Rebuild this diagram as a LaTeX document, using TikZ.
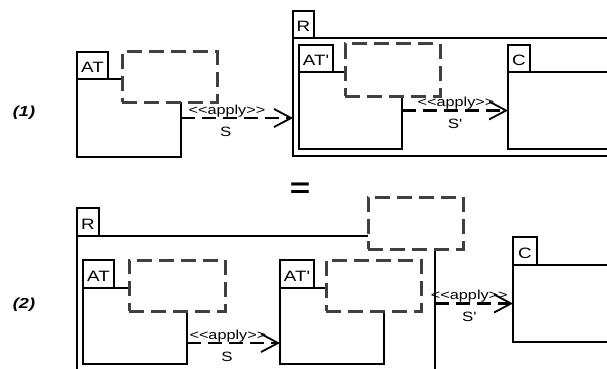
\documentclass[tikz,border=0pt]{standalone}
\usepackage{fontspec}
\setmainfont[FakeStretch=1.25,Ligatures=TeXOff]{Liberation Sans}
\usetikzlibrary{positioning,arrows.meta}
\definecolor{hookGrey}{HTML}{404040}

\tikzset{
  pkgtab/.style={draw, line width=1.4pt, fill=white, inner sep=0pt, outer sep=0pt, minimum height=27pt, anchor=north west, font=\fontsize{15}{17}\selectfont, text height=14pt, text depth=0pt},
  pkgbody/.style={draw, line width=1.4pt, fill=white, inner sep=0pt, outer sep=0pt, anchor=north west},
  hookbox/.style={draw=hookGrey, line width=3pt, dash pattern=on 15pt off 7pt, fill=white, inner sep=0pt, outer sep=0pt, anchor=north west, minimum width=95pt, minimum height=50pt},
  applyarrow/.style={line width=2.8pt, dash pattern=on 14pt off 7pt, -{Straight Barb[length=17pt, width=18pt, line width=1.8pt]}},
  stereo/.style={font=\fontsize{13}{15}\selectfont, anchor=base, inner sep=0pt, yshift=4pt},
  rolename/.style={font=\fontsize{13.5}{15}\selectfont, anchor=base, inner sep=0pt, yshift=-18pt},
  rowmark/.style={font=\fontsize{14.5}{16}\selectfont\bfseries\itshape}
}

\begin{document}
\begin{tikzpicture}[x=1pt, y=-1pt]
  \useasboundingbox (0,0) rectangle (607,369);
  \clip (0,0) rectangle (607,369);

  % (1)
  \node[rowmark] (m1) at (24,113) {(1)};
  \node[pkgtab, minimum width=31pt] (at1t) at (77,52) {AT};
  \node[pkgbody, minimum width=104pt, minimum height=78pt] (at1b) at (at1t.south west) {};
  \node[hookbox] (h1) at (122,52) {};

  \node[pkgtab, minimum width=21pt] (r1t) at (293,11) {R};
  \node[pkgbody, minimum width=330pt, minimum height=118pt] (r1b) at (r1t.south west) {};
  \node[pkgtab, minimum width=34pt] (atp1t) at (299,45) {AT'};
  \node[pkgbody, minimum width=103pt, minimum height=77pt] (atp1b) at (atp1t.south west) {};
  \node[hookbox, minimum height=52pt] (h2) at (345,44) {};
  \node[pkgtab, minimum width=22pt] (c1t) at (508,45) {C};
  \node[pkgbody, minimum width=112pt, minimum height=77pt] (c1b) at (c1t.south west) {};

  \draw[applyarrow] (at1b.east) -- (at1b.east -| r1b.west)
    node[stereo, pos=0.41] {<<apply>>} node[rolename, pos=0.4] {S};
  \draw[applyarrow] (atp1b) -- (c1b)
    node[stereo, pos=0.51] {<<apply>>} node[rolename, pos=0.5] {S'};

  \node[font=\fontsize{28}{30}\selectfont\bfseries] (eq) at (300,190) {=};

  % (2)
  \node[rowmark] (m2) at (24,305) {(2)};
  \node[pkgtab, minimum width=22pt, minimum height=28pt] (r2t) at (77,208) {R};
  \node[pkgbody, minimum width=358pt, minimum height=150pt] (r2b) at (r2t.south west) {};
  \node[pkgtab, minimum width=31pt, minimum height=28pt] (at2t) at (83,260) {AT};
  \node[pkgbody, minimum width=104pt, minimum height=76pt] (at2b) at (at2t.south west) {};
  \node[hookbox, minimum width=96pt, minimum height=51pt] (h4) at (129,260) {};
  \node[pkgtab, minimum width=34pt, minimum height=28pt] (atp2t) at (280,260) {AT'};
  \node[pkgbody, minimum width=104pt, minimum height=76pt] (atp2b) at (atp2t.south west) {};
  \node[hookbox, minimum height=51pt] (h5) at (326,260) {};
  \node[hookbox, minimum height=52pt] (h3) at (368,197) {};
  \node[pkgtab, minimum width=24pt, minimum height=28pt] (c2t) at (513,237) {C};
  \node[pkgbody, minimum width=110pt, minimum height=77pt] (c2b) at (c2t.south west) {};

  \draw[applyarrow] (at2b.east |- 0,343) -- (atp2b.west |- 0,343)
    node[stereo, pos=0.44] {<<apply>>} node[rolename, pos=0.43] {S};
  \draw[applyarrow] (c2b.west -| r2b.east) -- (c2b.west)
    node[stereo, pos=0.44] {<<apply>>} node[rolename, pos=0.44] {S'};
\end{tikzpicture}
\end{document}
